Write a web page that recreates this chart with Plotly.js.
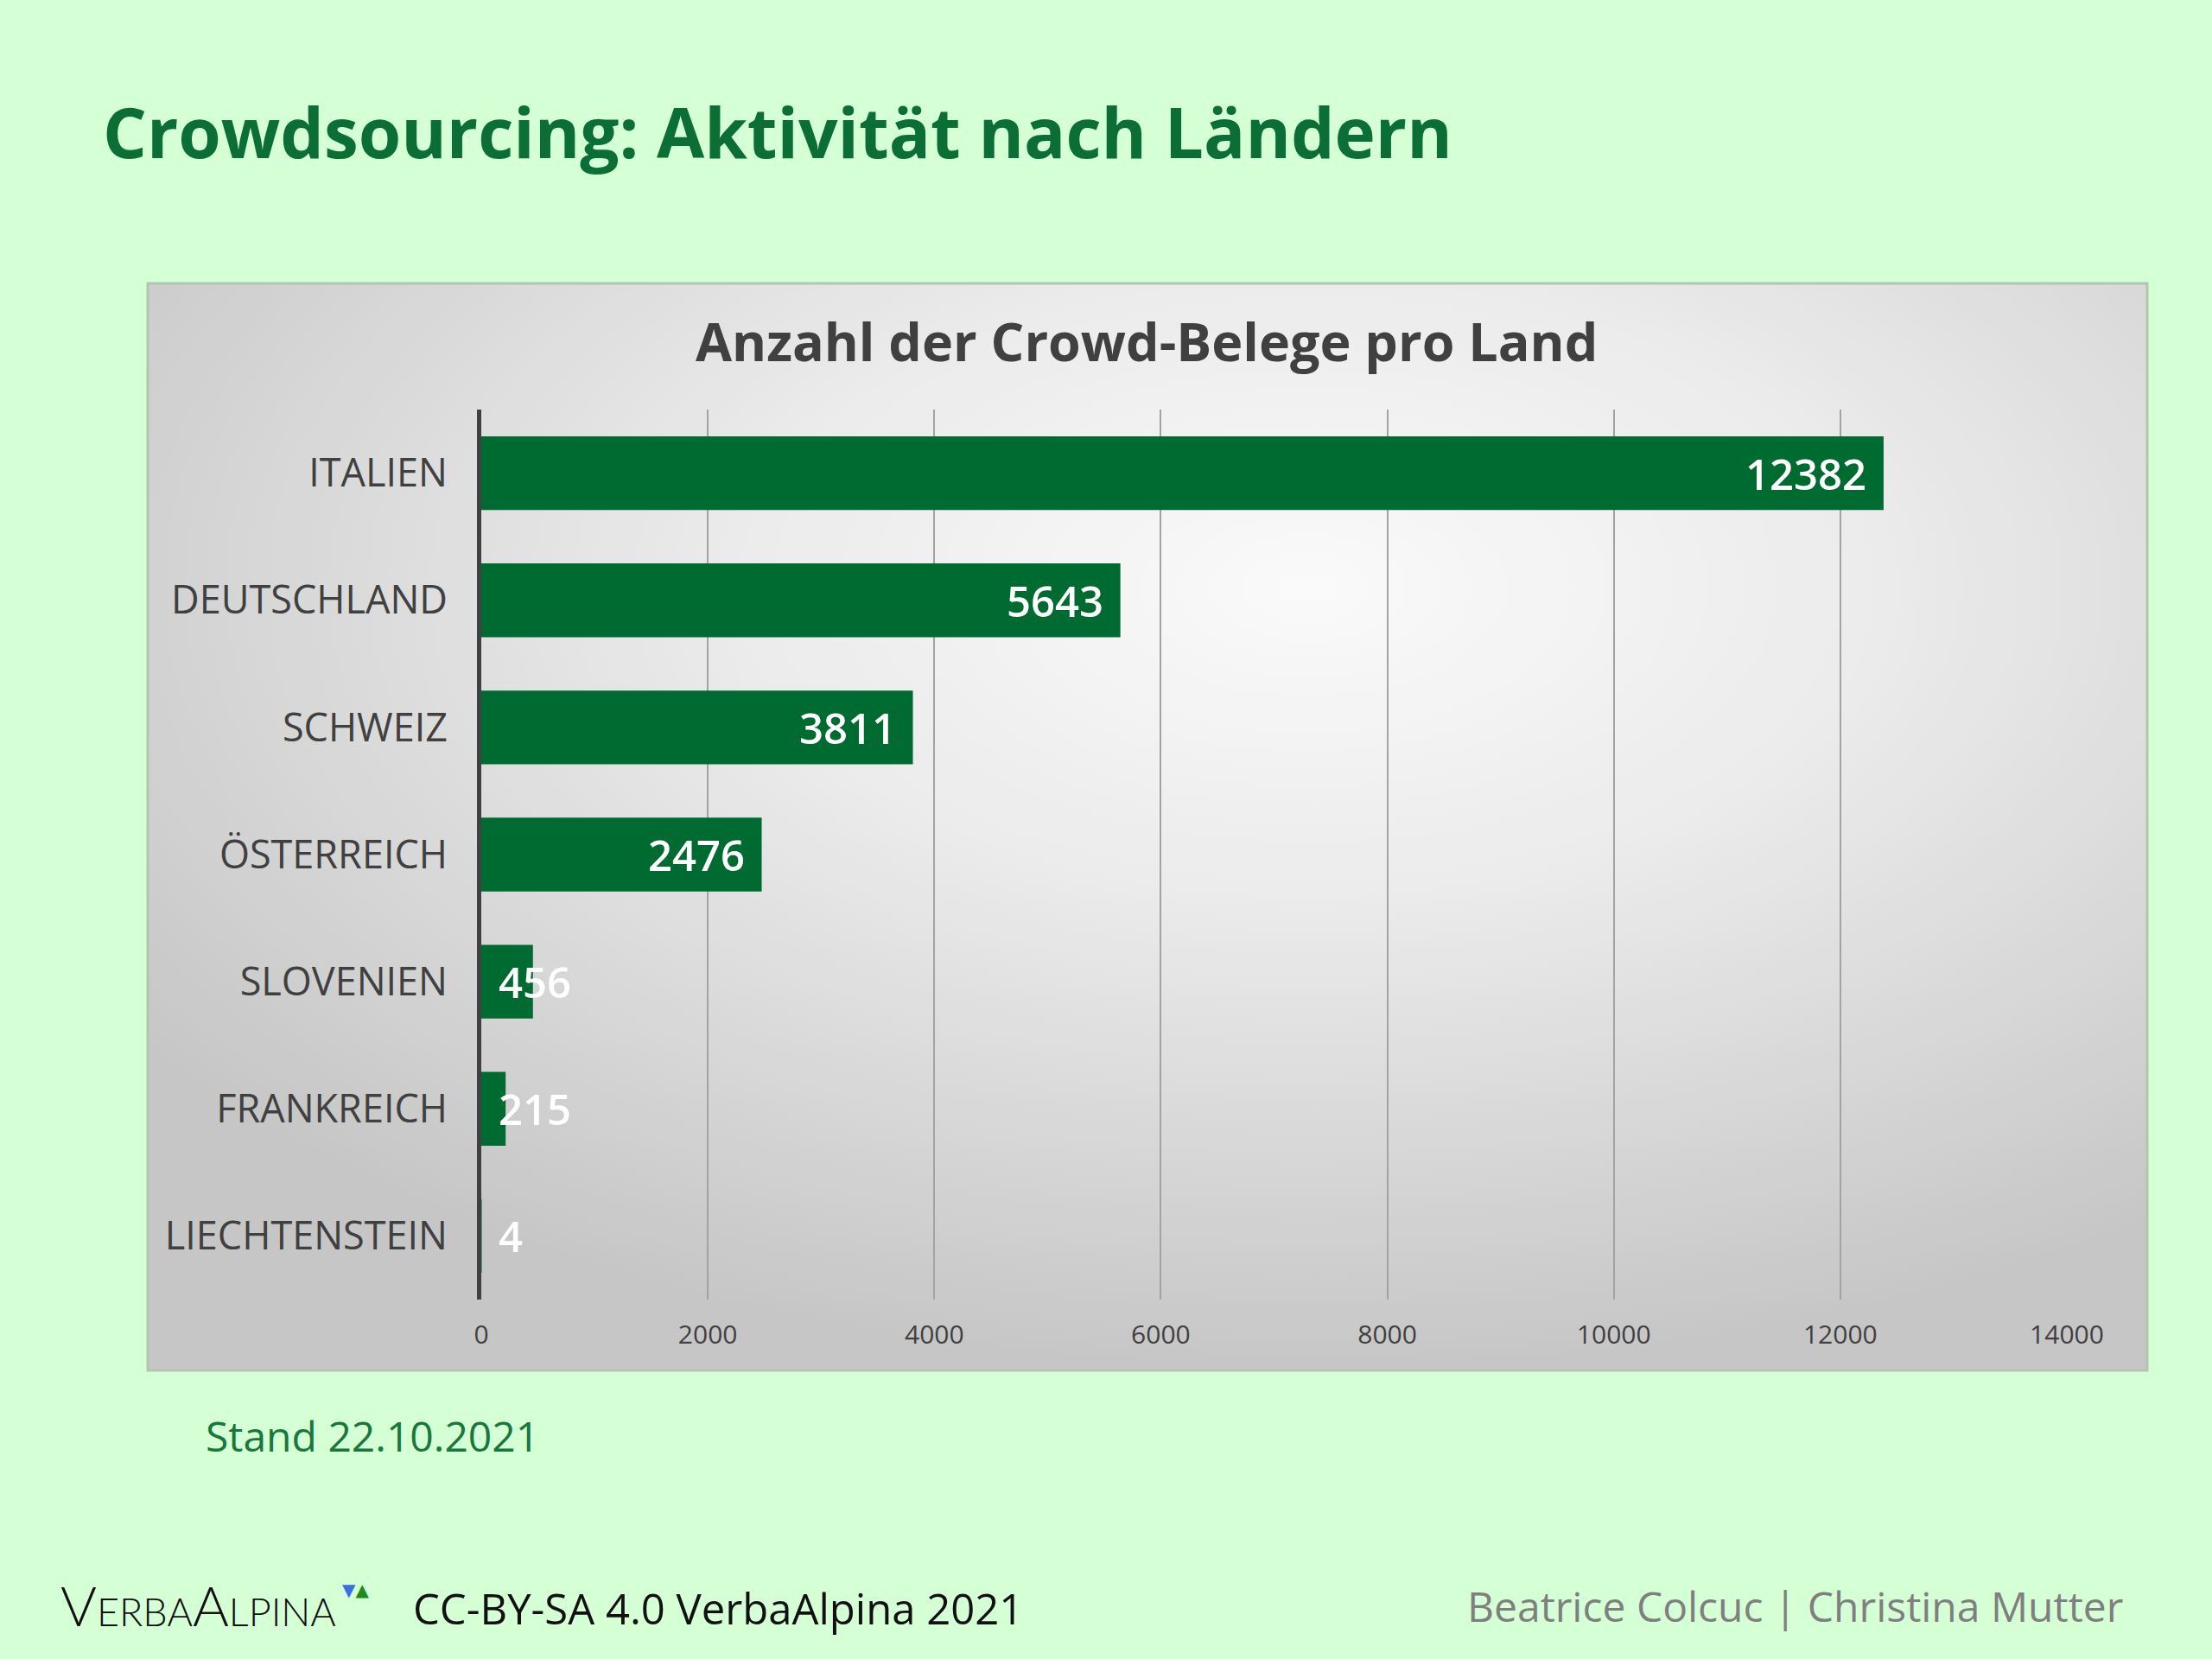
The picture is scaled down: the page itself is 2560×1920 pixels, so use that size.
<!DOCTYPE html>
<html>
<head>
<meta charset="utf-8">
<script src="https://cdn.plot.ly/plotly-3.0.1.min.js"></script>
<style>html,body{margin:0;padding:0;background:#d5ffd5;}#chart{width:2560px;height:1920px;}</style>
</head>
<body>
<div id="chart"></div>
<script>
const countries = ["ITALIEN","DEUTSCHLAND","SCHWEIZ","ÖSTERREICH","SLOVENIEN","FRANKREICH","LIECHTENSTEIN"];
const counts = [12382, 5643, 3811, 2476, 456, 215, 4];
const xTicks = [0,2000,4000,6000,8000,10000,12000,14000];

const W = 2560, H = 1920;
const px = x => x / W;
const py = y => 1 - y / H;
const FONT = "Open Sans, Noto Sans, sans-serif";

const bar = {
  type: "bar",
  orientation: "h",
  y: countries,
  x: counts,
  marker: {color: "#006b31", line: {width: 0}},
  hoverinfo: "none"
};

// value labels from data
const valueAnns = counts.map((v, i) => {
  const inside = v >= 1000;
  return {
    xref: "x", yref: "y",
    x: inside ? v : 0,
    y: countries[i],
    text: String(v),
    showarrow: false,
    xanchor: inside ? "right" : "left",
    xshift: inside ? -18 : 18,
    yanchor: "middle",
    font: {family: FONT, size: 49, color: "#ffffff", weight: 600}
  };
});

const gradSvg = '<svg xmlns="http://www.w3.org/2000/svg" width="2314" height="1258" viewBox="0 0 2314 1258" preserveAspectRatio="none">' +
  '<defs><radialGradient id="g" cx="0.58" cy="0.28" r="0.72" gradientUnits="objectBoundingBox">' +
  '<stop offset="0" stop-color="#fafafa"/><stop offset="0.4" stop-color="#ebebeb"/><stop offset="1" stop-color="#c6c6c6"/></radialGradient></defs>' +
  '<rect x="0" y="0" width="2314" height="1258" fill="url(#g)"/></svg>';
const gradUri = "data:image/svg+xml;charset=utf-8," + encodeURIComponent(gradSvg);

const layout = {
  width: W, height: H,
  margin: {l: 0, r: 0, t: 0, b: 0},
  paper_bgcolor: "#d5ffd5",
  plot_bgcolor: "rgba(0,0,0,0)",
  showlegend: false,
  bargap: 0.42,
  images: [{
    source: gradUri, xref: "paper", yref: "paper",
    x: px(171), y: py(328), sizex: 2314 / W, sizey: 1258 / H,
    xanchor: "left", yanchor: "top", sizing: "stretch", layer: "below"
  }],
  shapes: [{
    type: "rect", xref: "paper", yref: "paper",
    x0: px(171), x1: px(2485), y0: py(328), y1: py(1586),
    line: {color: "#b4c4b4", width: 3}, fillcolor: "rgba(0,0,0,0)", layer: "below"
  }],
  xaxis: {
    domain: [px(557), px(2392)],
    range: [0, 14000],
    tickvals: xTicks,
    ticktext: xTicks.map(String),
    showgrid: true, gridcolor: "#a3a3a3", gridwidth: 2,
    zeroline: false, showline: false,
    ticks: "", ticklabelstandoff: 20,
    tickfont: {family: FONT, size: 30, color: "#404040"},
    fixedrange: true
  },
  yaxis: {
    domain: [py(1504), py(474)],
    autorange: "reversed",
    type: "category",
    showgrid: false, zeroline: false,
    showline: true, linecolor: "#404040", linewidth: 5,
    ticks: "", ticklabelstandoff: 25,
    tickfont: {family: FONT, size: 45, color: "#404040"},
    fixedrange: true
  },
  annotations: [
    {xref: "paper", yref: "paper", x: px(117), y: py(152), xanchor: "left", yanchor: "middle", showarrow: false,
     text: "Crowdsourcing: Aktivität nach Ländern", font: {family: FONT, size: 80, color: "#0b6e35", weight: 700}},
    {xref: "paper", yref: "paper", x: px(1327), y: py(395), xanchor: "center", yanchor: "middle", showarrow: false,
     text: "Anzahl der Crowd-Belege pro Land", font: {family: FONT, size: 61, color: "#404040", weight: 700}},
    {xref: "paper", yref: "paper", x: px(236), y: py(1661), xanchor: "left", yanchor: "middle", showarrow: false,
     text: "Stand 22.10.2021", font: {family: FONT, size: 48, color: "#17773c"}},
    {xref: "paper", yref: "paper", x: px(68), y: py(1857), xanchor: "left", yanchor: "middle", showarrow: false,
     text: '<span style="font-size:64px">V</span>ERBA<span style="font-size:64px">A</span>LPINA',
     font: {family: "Lato, sans-serif", size: 45, color: "#111111", weight: 300}},
    {xref: "paper", yref: "paper", x: px(394), y: py(1840), xanchor: "left", yanchor: "middle", showarrow: false,
     text: '<span style="color:#3b6fe0">▼</span><span style="color:#1e8a1e">▲</span>',
     font: {family: "DejaVu Sans, sans-serif", size: 20, color: "#3b6fe0"}},
    {xref: "paper", yref: "paper", x: px(476), y: py(1861), xanchor: "left", yanchor: "middle", showarrow: false,
     text: "CC-BY-SA 4.0 VerbaAlpina 2021", font: {family: FONT, size: 49, color: "#111111"}},
    {xref: "paper", yref: "paper", x: px(2459), y: py(1858), xanchor: "right", yanchor: "middle", showarrow: false,
     text: "Beatrice Colcuc | Christina Mutter", font: {family: FONT, size: 48, color: "#7f7f7f"}}
  ].concat(valueAnns)
};

Plotly.newPlot("chart", [bar], layout, {displayModeBar: false, staticPlot: true});
</script>
</body>
</html>
